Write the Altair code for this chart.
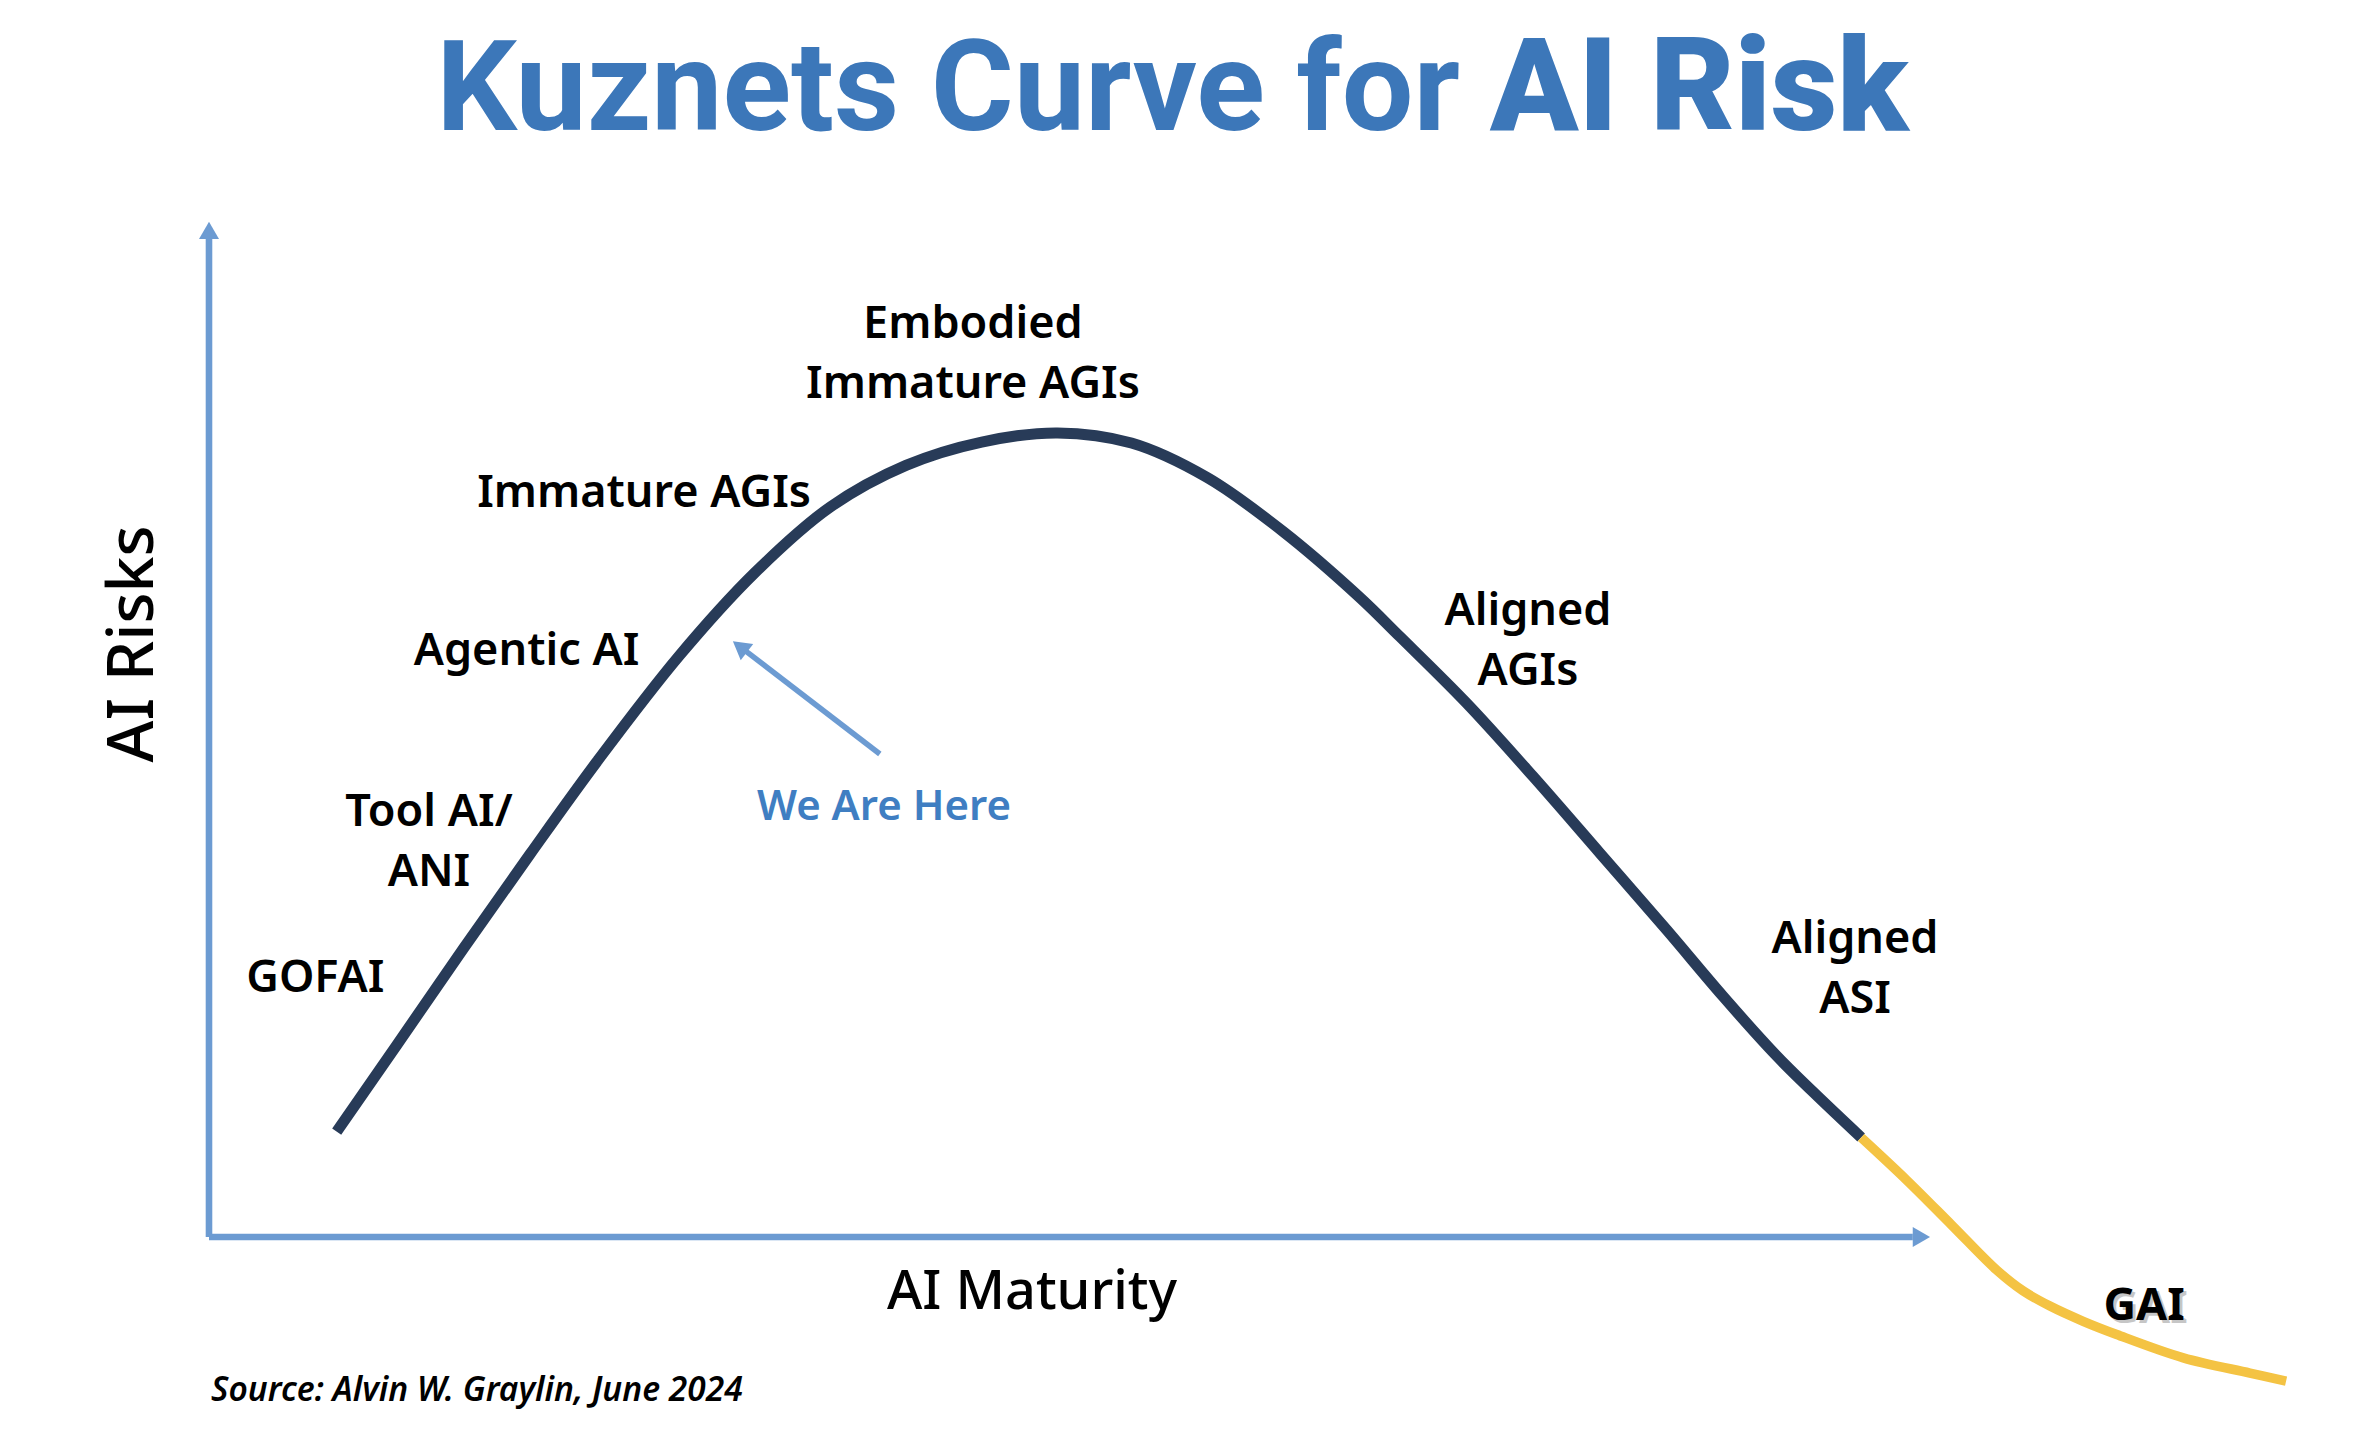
import altair as alt
import pandas as pd

# ---------------- data (axis units: 0..100 along each arrow) ----------------
TITLE_LEFT = "Kuznets Curve for"
TITLE_RIGHT = "AI Risk"
X_TITLE = "AI Maturity"
Y_TITLE = "AI Risks"
SOURCE = "Source: Alvin W. Graylin, June 2024"
POINTER_TEXT = "We Are Here"
GAI_TEXT = "GAI"

risk_maturity = [7.42, 10.91, 14.78, 18.65, 22.53, 27.3, 31.7, 36.1, 40.5, 44.9,
                 49.3, 53.6, 58.0, 62.4, 66.8, 69.2, 73.08, 76.95, 80.83, 84.70, 87.99,
                 91.0, 93.2, 96.0]
risk_level = [10.37, 18.9, 28.4, 37.7, 46.8, 57.2, 65.4, 71.9, 76.0, 78.3,
              79.2, 78.2, 74.8, 69.5, 63.1, 59.13, 52.57, 45.34, 37.79, 30.24, 23.67,
              18.0, 14.3, 9.8]

gai_maturity = [96.0, 98.64, 101.26, 103.87, 105.4, 106.97, 108.9, 110.85, 114.72, 118.59, 120.69]
gai_level = [9.8, 5.61, 1.18, -3.25, -5.3, -6.8, -8.3, -9.6, -11.9, -13.4, -14.2]

stage_labels = ["Embodied\nImmature AGIs", "Immature AGIs", "Agentic AI", "Tool AI/\nANI",
                "GOFAI", "Aligned\nAGIs", "Aligned\nASI"]
stage_x = [44.39, 25.28, 18.45, 12.78, 6.18, 76.64, 95.64]
stage_y = [88.5, 71.9, 56.34, 40.51, 24.16, 60.28, 27.97]

# ---------------- layout / style ----------------
W, H = 2350, 1432
X_DOMAIN = [-11.679, 124.869]
Y_DOMAIN = [-19.994, 121.048]
AXIS_BLUE = "#6C9BD2"
TITLE_BLUE = "#3C77B9"
NAVY = "#283B58"
YELLOW = "#F4C343"
FONT = "Noto Sans"

xs = alt.Scale(domain=X_DOMAIN, nice=False, zero=False)
ys = alt.Scale(domain=Y_DOMAIN, nice=False, zero=False)


def enc(chart, x="x", y="y"):
    return chart.encode(
        x=alt.X(f"{x}:Q", scale=xs, axis=None),
        y=alt.Y(f"{y}:Q", scale=ys, axis=None),
    )


curve_df = pd.DataFrame({"x": risk_maturity, "y": risk_level})
gai_df = pd.DataFrame({"x": gai_maturity, "y": gai_level})

axes_df = pd.DataFrame({"x": [0.0, 0.0], "y": [0.0, 0.0], "x2": [0.0, 99.0], "y2": [98.5, 0.0]})
heads_df = pd.DataFrame({"x": [0.0, 99.5, 30.85], "y": [99.15, 0.0, 58.15],
                         "angle": [0, 90, 307.5], "size": [400, 400, 420]})
pointer_df = pd.DataFrame({"x": [38.98], "y": [47.57], "x2": [30.85], "y2": [58.15]})

axis_rules = alt.Chart(axes_df).mark_rule(color=AXIS_BLUE, strokeWidth=6.6).encode(
    x=alt.X("x:Q", scale=xs, axis=None), y=alt.Y("y:Q", scale=ys, axis=None),
    x2="x2:Q", y2="y2:Q")
pointer_rule = alt.Chart(pointer_df).mark_rule(color=AXIS_BLUE, strokeWidth=5.5).encode(
    x=alt.X("x:Q", scale=xs, axis=None), y=alt.Y("y:Q", scale=ys, axis=None),
    x2="x2:Q", y2="y2:Q")
heads = enc(alt.Chart(heads_df).mark_point(shape="triangle-up", filled=True, opacity=1,
                                           color=AXIS_BLUE, strokeWidth=0)).encode(
    angle=alt.Angle("angle:Q", scale=None), size=alt.Size("size:Q", scale=None))

navy_line = enc(alt.Chart(curve_df).mark_line(color=NAVY, strokeWidth=11, interpolate="catmull-rom"))
gai_line = enc(alt.Chart(gai_df).mark_line(color=YELLOW, strokeWidth=9.5, interpolate="catmull-rom"))

stage_df = pd.DataFrame({"label": stage_labels, "x": stage_x, "y": stage_y})
stages = enc(alt.Chart(stage_df).mark_text(font=FONT, fontSize=45, fontWeight=600, color="#000000",
                                          align="center", baseline="alphabetic",
                                          lineBreak="\n", lineHeight=60)).encode(text="label:N")

gai_lbl_df = pd.DataFrame({"label": [GAI_TEXT], "x": [112.44], "y": [-8.17]})
gai_shadow = enc(alt.Chart(gai_lbl_df).mark_text(font=FONT, fontSize=45, fontWeight=700, color="#000000",
                                                opacity=0.22, dx=3, dy=3, align="center",
                                                baseline="alphabetic")).encode(text="label:N")
gai_lbl = enc(alt.Chart(gai_lbl_df).mark_text(font=FONT, fontSize=45, fontWeight=700, color="#000000",
                                             align="center", baseline="alphabetic")).encode(text="label:N")

ptr_df = pd.DataFrame({"label": [POINTER_TEXT], "x": [39.22], "y": [41.07]})
ptr_lbl = enc(alt.Chart(ptr_df).mark_text(font=FONT, fontSize=42, fontWeight=600, color="#3F7EC2",
                                         align="center", baseline="alphabetic")).encode(text="label:N")

xt_df = pd.DataFrame({"label": [X_TITLE], "x": [47.82], "y": [-7.09]})
x_title = enc(alt.Chart(xt_df).mark_text(font=FONT, fontSize=54, fontWeight=500, color="#000000",
                                        align="center", baseline="alphabetic")).encode(text="label:N")

yt_df = pd.DataFrame({"label": [Y_TITLE], "x": [-3.27], "y": [58.41]})
y_title = enc(alt.Chart(yt_df).mark_text(font=FONT, fontSize=64, fontWeight=500, color="#000000",
                                        angle=270, align="center", baseline="alphabetic")).encode(text="label:N")

src_df = pd.DataFrame({"label": [SOURCE], "x": [0.12], "y": [-16.15]})
source = enc(alt.Chart(src_df).mark_text(font=FONT, fontSize=33.5, fontWeight=600, fontStyle="italic",
                                        color="#000000", align="left", baseline="alphabetic")).encode(text="label:N")

tl_df = pd.DataFrame({"label": [TITLE_LEFT], "x": [72.69], "y": [109.0]})
title_left = enc(alt.Chart(tl_df).mark_text(font="Roboto", fontSize=127, fontWeight=700, color=TITLE_BLUE,
                                           align="right", baseline="alphabetic")).encode(text="label:N")
tr_df = pd.DataFrame({"label": [TITLE_RIGHT], "x": [74.43], "y": [109.0]})
title_right = enc(alt.Chart(tr_df).mark_text(font="Roboto", fontSize=130, fontWeight=900, color=TITLE_BLUE,
                                            align="left", baseline="alphabetic")).encode(text="label:N")

chart = alt.layer(
    axis_rules, heads, pointer_rule, navy_line, gai_line,
    stages, gai_shadow, gai_lbl, ptr_lbl, x_title, y_title, source, title_left, title_right,
).properties(
    width=W, height=H, padding=0, autosize=alt.AutoSizeParams(type="none"), background="white",
).configure_view(stroke=None)

chart.save("out.html", embed_options={"renderer": "svg", "actions": False})
